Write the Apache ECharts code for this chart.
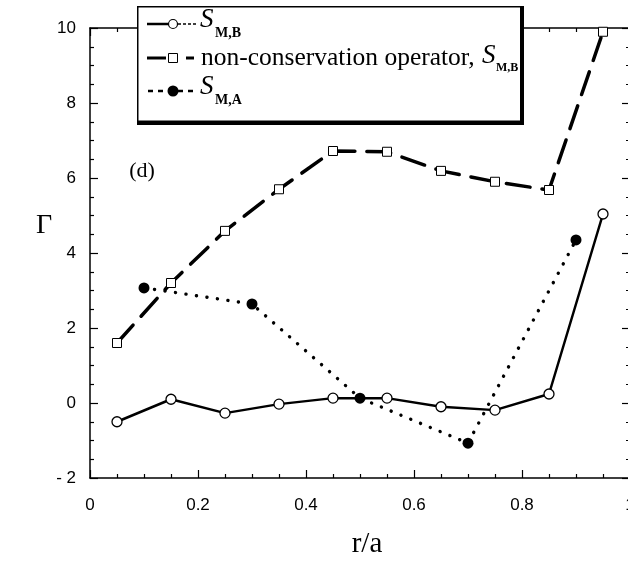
<!DOCTYPE html>
<html>
<head>
<meta charset="utf-8">
<script src="https://cdn.jsdelivr.net/npm/echarts@6/dist/echarts.min.js"></script>
<style>
  html, body { margin: 0; padding: 0; background: #fff; }
  #chart { width: 628px; height: 575px; }
</style>
</head>
<body>
<div id="chart"></div>
<script>
// Radial positions r/a of each profile
const rSMB = [0.05, 0.15, 0.25, 0.35, 0.45, 0.55, 0.65, 0.75, 0.85, 0.95];
const rNonCons = [0.05, 0.15, 0.25, 0.35, 0.45, 0.55, 0.65, 0.75, 0.85, 0.95];
const rSMA = [0.1, 0.3, 0.5, 0.7, 0.9];

// Γ values
const gammaSMB = [-0.5, 0.1, -0.27, -0.03, 0.13, 0.13, -0.1, -0.19, 0.24, 5.04];
const gammaNonCons = [1.6, 3.2, 4.59, 5.7, 6.72, 6.7, 6.19, 5.9, 5.68, 9.9];
const gammaSMA = [3.07, 2.64, 0.13, -1.07, 4.35];

// Axis ranges and tick steps
const xTicks = { min: 0, max: 1, step: 0.2 };
const yTicks = { min: -2, max: 10, step: 2 };

const pairs = (xs, ys) => xs.map((x, i) => [x, ys[i]]);

const serif = '"Liberation Serif", "DejaVu Serif", serif';
const sans = '"Liberation Sans", Arial, sans-serif';

const chart = echarts.init(document.getElementById('chart'), null, { renderer: 'canvas' });

const tickStyle = { color: '#000', width: 1.2 };
const axisBase = {
  type: 'value',
  axisLine: { show: true, onZero: false, lineStyle: { color: '#000', width: 1.5 } },
  splitLine: { show: false },
  axisTick: { show: true, inside: true, length: 8, lineStyle: tickStyle },
  minorTick: { show: true, splitNumber: 4, length: 4, lineStyle: tickStyle },
};

const legendX = 137, legendY = 6, legendW = 387, legendH = 119;
const rowY = [24, 58, 91];

chart.setOption({
  animation: false,
  backgroundColor: '#fff',
  grid: { left: 90, top: 28, width: 540, height: 450, outerBoundsMode: 'none', containLabel: false },
  xAxis: [
    Object.assign({}, axisBase, {
      position: 'bottom', min: xTicks.min, max: xTicks.max, interval: xTicks.step,
      axisLabel: {
        show: true, margin: 19, color: '#000', fontFamily: sans, fontSize: 17,
        formatter: v => (v === 0 || v === 1) ? String(v) : v.toFixed(1)
      }
    }),
    Object.assign({}, axisBase, {
      position: 'top', min: xTicks.min, max: xTicks.max, interval: xTicks.step,
      axisLabel: { show: false }
    })
  ],
  yAxis: [
    Object.assign({}, axisBase, {
      position: 'left', min: yTicks.min, max: yTicks.max, interval: yTicks.step,
      axisLabel: {
        show: true, margin: 14, color: '#000', fontFamily: sans, fontSize: 17,
        formatter: v => v < 0 ? '- ' + Math.abs(v) : String(v)
      }
    }),
    Object.assign({}, axisBase, {
      position: 'right', min: yTicks.min, max: yTicks.max, interval: yTicks.step,
      axisLabel: { show: false }
    })
  ],
  series: [
    {
      name: 'non-conservation operator, S_M,B',
      type: 'line',
      data: pairs(rNonCons, gammaNonCons),
      symbol: 'rect', symbolSize: 9,
      lineStyle: { color: '#000', width: 3.5, type: [24, 12], cap: 'round' },
      itemStyle: { color: '#fff', borderColor: '#000', borderWidth: 1 },
      z: 2
    },
    {
      name: 'S_M,A',
      type: 'line',
      data: pairs(rSMA, gammaSMA),
      symbol: 'circle', symbolSize: 11,
      lineStyle: { color: '#000', width: 3.4, type: [0.1, 10.5], cap: 'round' },
      itemStyle: { color: '#000', borderColor: '#000', borderWidth: 0 },
      z: 3
    },
    {
      name: 'S_M,B',
      type: 'line',
      data: pairs(rSMB, gammaSMB),
      symbol: 'circle', symbolSize: 10,
      lineStyle: { color: '#000', width: 2.5 },
      itemStyle: { color: '#fff', borderColor: '#000', borderWidth: 1.3 },
      z: 4
    }
  ],
  graphic: [
    // legend frame with heavy right/bottom edge
    { type: 'rect', z: 100, shape: { x: legendX, y: legendY, width: legendW, height: legendH }, style: { fill: '#000' } },
    { type: 'rect', z: 101, shape: { x: legendX + 1.5, y: legendY + 1.5, width: legendW - 5.5, height: legendH - 6 }, style: { fill: '#fff' } },

    // row 1: S_M,B
    { type: 'line', z: 102, shape: { x1: 147, y1: rowY[0], x2: 168, y2: rowY[0] }, style: { stroke: '#000', lineWidth: 2.5 } },
    { type: 'line', z: 102, shape: { x1: 178, y1: rowY[0], x2: 197, y2: rowY[0] }, style: { stroke: '#000', lineWidth: 1.5, lineDash: [3, 2] } },
    { type: 'circle', z: 103, shape: { cx: 173, cy: rowY[0], r: 4.5 }, style: { fill: '#fff', stroke: '#000', lineWidth: 1.2 } },
    { type: 'text', z: 103, x: 200, y: rowY[0] - 4, style: { text: 'S', font: 'italic 27px ' + serif, fill: '#000', verticalAlign: 'middle' } },
    { type: 'text', z: 103, x: 215, y: rowY[0] + 9, style: { text: 'M,B', font: 'bold 14px ' + serif, fill: '#000', verticalAlign: 'middle' } },

    // row 2: non-conservation operator
    { type: 'line', z: 102, shape: { x1: 147, y1: rowY[1], x2: 166, y2: rowY[1] }, style: { stroke: '#000', lineWidth: 3 } },
    { type: 'line', z: 102, shape: { x1: 186, y1: rowY[1], x2: 194, y2: rowY[1] }, style: { stroke: '#000', lineWidth: 3 } },
    { type: 'rect', z: 103, shape: { x: 168.5, y: rowY[1] - 4.5, width: 9, height: 9 }, style: { fill: '#fff', stroke: '#000', lineWidth: 1 } },
    { type: 'text', z: 103, x: 201, y: rowY[1], style: { text: 'non-conservation operator,', font: '25.5px ' + serif, fill: '#000', verticalAlign: 'middle' } },
    { type: 'text', z: 103, x: 482, y: rowY[1] - 2, style: { text: 'S', font: 'italic 27px ' + serif, fill: '#000', verticalAlign: 'middle' } },
    { type: 'text', z: 103, x: 496, y: rowY[1] + 10, style: { text: 'M,B', font: 'bold 12px ' + serif, fill: '#000', verticalAlign: 'middle' } },

    // row 3: S_M,A
    { type: 'line', z: 102, shape: { x1: 148, y1: rowY[2], x2: 198, y2: rowY[2] }, style: { stroke: '#000', lineWidth: 2.5, lineDash: [5, 5] } },
    { type: 'circle', z: 103, shape: { cx: 173, cy: rowY[2], r: 5.5 }, style: { fill: '#000' } },
    { type: 'text', z: 103, x: 200, y: rowY[2] - 4, style: { text: 'S', font: 'italic 27px ' + serif, fill: '#000', verticalAlign: 'middle' } },
    { type: 'text', z: 103, x: 215, y: rowY[2] + 9, style: { text: 'M,A', font: 'bold 14px ' + serif, fill: '#000', verticalAlign: 'middle' } },

    // panel tag and axis titles
    { type: 'text', z: 50, x: 142, y: 171, style: { text: '(d)', font: '22px ' + serif, fill: '#000', align: 'center', verticalAlign: 'middle' } },
    { type: 'text', z: 50, x: 44, y: 226, style: { text: 'Γ', font: '28px ' + serif, fill: '#000', align: 'center', verticalAlign: 'middle' } },
    { type: 'text', z: 50, x: 367, y: 544, style: { text: 'r/a', font: '29px ' + serif, fill: '#000', align: 'center', verticalAlign: 'middle' } }
  ]
});
</script>
</body>
</html>
